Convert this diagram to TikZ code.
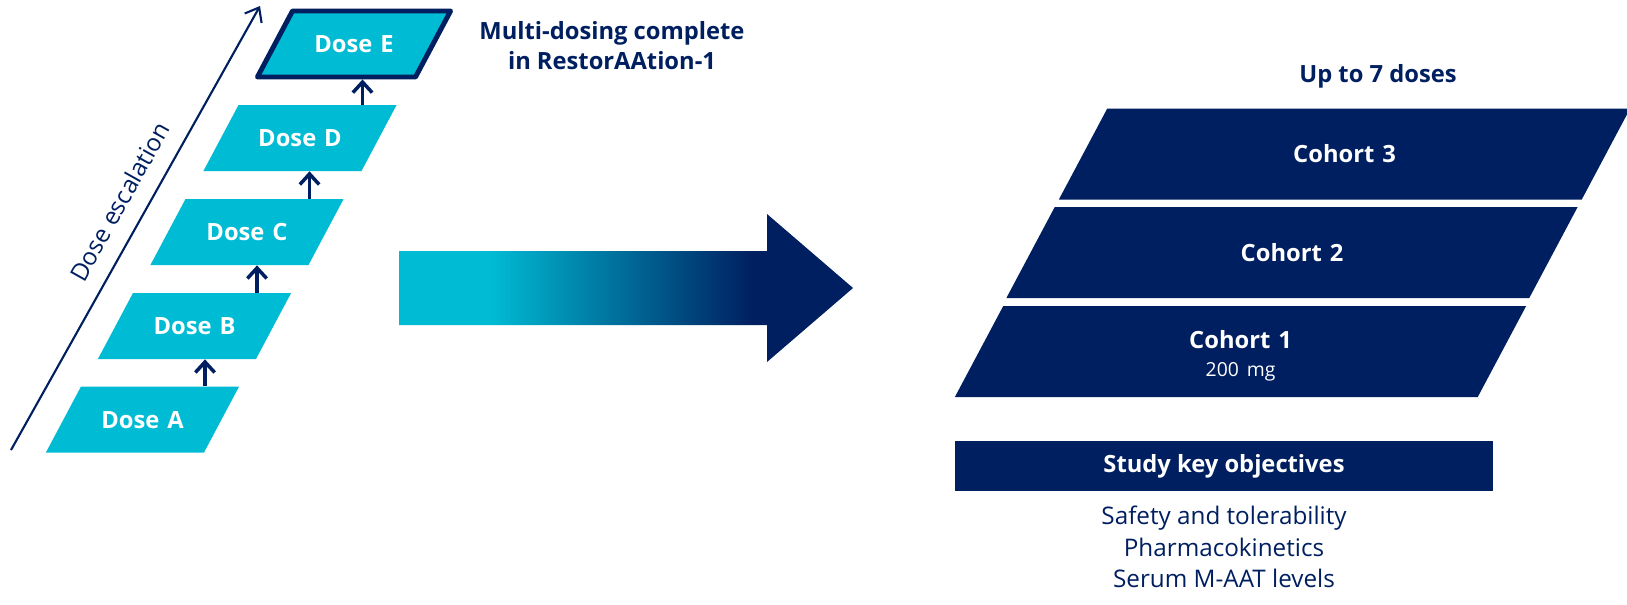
\documentclass[tikz,border=0pt]{standalone}
\usepackage{fontspec}
\setmainfont{Open Sans}
\usepackage{tikz}
\usetikzlibrary{arrows.meta,positioning,shapes.geometric}
\definecolor{pgcyan}{RGB}{0,187,212}
\definecolor{pgnavy}{RGB}{0,31,96}
% cyan held on the shaft, fading into navy before the head
\pgfdeclarehorizontalshading{doseflow}{100bp}{color(0bp)=(pgcyan); color(35bp)=(pgcyan);
  color(64bp)=(pgnavy); color(100bp)=(pgnavy)}

\begin{document}
\begin{tikzpicture}[
  font=\fontsize{13.8pt}{18pt}\selectfont,
  bold/.style={font=\fontsize{13.5pt}{17pt}\selectfont\bfseries},
  % parallelograms sized by their text box, so the 62 degree slant is kept
  dose/.style={trapezium,trapezium left angle=62,trapezium right angle=118,inner sep=0pt,
    text width=2.46cm,text height=0.83cm,text depth=0.49cm,align=center,
    fill=pgcyan,text=white,bold},
  cohort/.style={dose,text width=9.49cm,text height=1.08cm,text depth=0.74cm,fill=pgnavy},
  arr/.style={-{Straight Barb[length=6pt,width=11pt]},line width=2pt,draw=pgnavy},
  note/.style={text=pgnavy,align=center}
]
  \useasboundingbox (0,0) rectangle (32.54,12.08);

  % escalation ladder
  \coordinate (esc0) at (0.22,3.08);
  \coordinate (esc1) at (5.20,11.96);
  \draw[pgnavy,line width=1.2pt,-{Straight Barb[length=7pt,width=11pt]}] (esc0) --
    node[sloped,above=6pt,pos=0.53,text=pgnavy] (esclbl) {Dose escalation} (esc1);

  \node[dose] (dA) at (2.85,3.69) {Dose A};
  \node[dose] (dB) at (3.89,5.56) {Dose B};
  \node[dose] (dC) at (4.94,7.44) {Dose C};
  \node[dose] (dD) at (6.00,9.32) {Dose D};
  \node[dose,draw=pgnavy,line width=2.8pt,line join=round] (dE) at (7.08,11.20) {Dose E};
  \foreach \lo/\hi in {dA/dB,dB/dC,dC/dD,dD/dE}
    \draw[arr] ([xshift=1.25cm]\lo.north) -- ([xshift=1.25cm]\lo.north |- \hi.south);

  \node[bold,text=pgnavy,align=center] (title) at (12.24,11.16) {Multi-dosing complete\\in RestorAAtion-1};

  % transition arrow
  \shade[shading=doseflow] (7.98,7.06) -- (15.34,7.06) -- (15.34,7.80) -- (17.06,6.32)
    -- (15.34,4.84) -- (15.34,5.58) -- (7.98,5.58) -- cycle;

  % multi-dose cohorts
  \node[bold,text=pgnavy,anchor=base] (updoses) at (27.56,10.44) {Up to 7 doses};
  \node[cohort,text height=0.84cm,text depth=0.98cm] (c1) at (24.81,5.05)
    {Cohort 1\\[-1pt]{\fontsize{11pt}{13pt}\selectfont\mdseries\mbox{200 mg}}};
  \node[cohort] (c2) at (25.84,7.03) {Cohort 2};
  \node[cohort] (c3) at (26.89,9.00) {Cohort 3};

  \node[bold,fill=pgnavy,text=white,minimum width=10.76cm,minimum height=1.0cm] (objhead) at (24.48,2.76) {Study key objectives};
  \node[note] (objlist) at (24.48,1.14) {Safety and tolerability\\Pharmacokinetics\\Serum M-AAT levels};
\end{tikzpicture}
\end{document}
